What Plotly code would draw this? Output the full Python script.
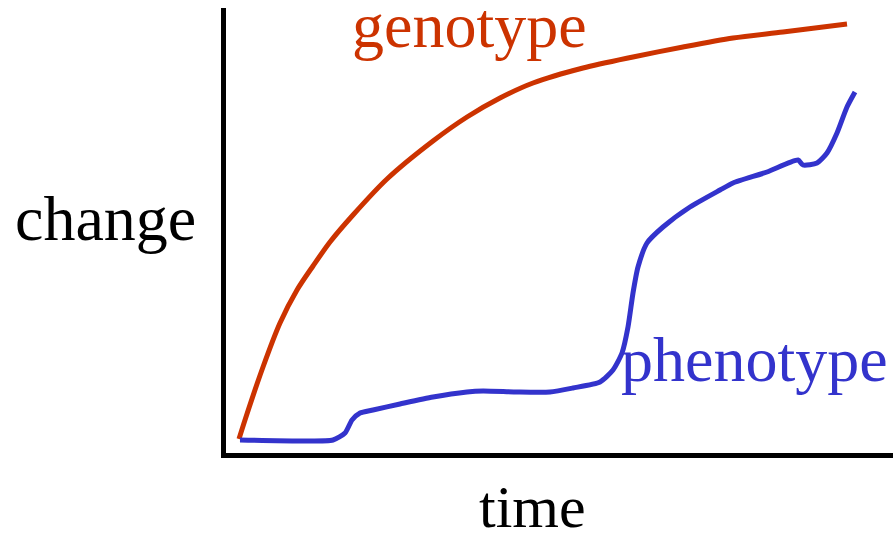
import plotly.graph_objects as go

# --- Data (axis units: time / change) ---
geno_time = [13, 19, 37, 54, 71, 87, 104, 127, 161, 207, 241, 274, 307, 357, 407, 457, 507, 557, 621]
geno_change = [14, 33, 86, 130, 163, 187, 211, 238, 274, 312, 336, 355, 370, 385, 396, 406, 415, 421, 429]

pheno_time = [14, 74, 107, 119, 126, 134, 147, 174, 207, 241, 257, 291, 324, 347, 374, 387, 396,
              402, 407, 412, 421, 437, 464, 494, 507, 541, 572, 577, 591, 601, 611, 621, 629]
pheno_change = [13, 12, 13, 20, 33, 40, 43, 49, 56, 61, 62, 61, 61, 65, 71, 83, 100,
                126, 160, 186, 210, 226, 246, 263, 270, 281, 293, 288, 290, 300, 320, 346, 361]

RED = "#CC3300"
BLUE = "#3333CC"
FONT = "Liberation Serif, Times New Roman, serif"

fig = go.Figure()
fig.add_trace(go.Scatter(x=geno_time, y=geno_change, mode="lines",
                         line=dict(color=RED, width=5, shape="spline", smoothing=0.8),
                         hoverinfo="skip"))
fig.add_trace(go.Scatter(x=pheno_time, y=pheno_change, mode="lines",
                         line=dict(color=BLUE, width=5, shape="spline", smoothing=0.6),
                         hoverinfo="skip"))

# labels (paper coords, may sit outside the plot area)
labels = [
    ("change", -0.18, 0.5265, "black", 64),
    ("time", 0.4588, -0.122, "black", 60),
    ("genotype", 0.3658, 0.9596, RED, 64),
    ("phenotype", 0.793, 0.209, BLUE, 64),
]
for txt, x, y, col, size in labels:
    fig.add_annotation(text=txt, x=x, y=y, xref="paper", yref="paper", showarrow=False,
                       font=dict(family=FONT, size=size, color=col),
                       xanchor="center", yanchor="middle")

axis_style = dict(showline=True, linewidth=5, linecolor="black", showgrid=False,
                  zeroline=False, showticklabels=False, ticks="")
fig.update_xaxes(range=[0, 667], **axis_style)
fig.update_yaxes(range=[0, 445], **axis_style)

fig.update_layout(
    width=895, height=537,
    margin=dict(l=226, r=2, t=8, b=84),
    plot_bgcolor="white", paper_bgcolor="white",
    showlegend=False,
)

fig.write_html("out.html", config={"displayModeBar": False},
               post_script="document.body.style.margin='0';")
